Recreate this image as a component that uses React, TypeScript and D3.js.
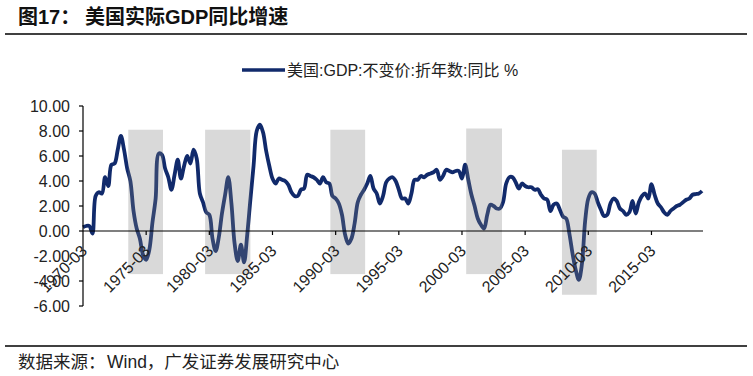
import React from 'react';
import * as d3 from 'd3';

// ---------- data ----------
const START_YEAR = 1970;
// 美国:GDP:不变价:折年数:同比 (%), quarterly from 1970-03
const gdpYoY: number[] = [
  0.3, 0.4, 0.4, -0.2,
  2.8, 3.1, 3.0, 4.3,
  3.6, 5.3, 5.4, 6.5,
  7.6, 6.5, 5.0, 4.0,
  1.6, 0.2, -0.6, -1.9,
  -2.3, -1.5, 0.7, 2.6,
  6.2, 6.1, 5.0, 4.3,
  3.3, 4.5, 5.7, 4.2,
  5.2, 6.0, 5.4, 6.5,
  5.8, 3.0, 2.3, 1.5,
  1.3, -0.6, -1.6, -0.5,
  1.4, 2.9, 4.3, 2.2,
  -1.0, -2.4, -1.1, -2.5,
  -0.3, 2.5, 5.2, 8.0,
  8.5, 7.9, 6.4, 5.2,
  4.2, 3.8, 4.2, 4.1,
  4.0, 3.7, 3.1, 2.8,
  2.8, 3.3, 3.4, 4.5,
  4.4, 4.3, 4.1, 3.8,
  4.3, 3.9, 3.8, 2.8,
  2.6, 2.2, 1.3, -0.3,
  -1.0, -0.6, 0.6, 2.3,
  2.9, 3.3, 3.8, 4.4,
  3.4, 3.0, 2.2, 2.8,
  3.9, 4.2, 4.3, 4.0,
  3.3, 2.6, 2.6, 2.2,
  3.0, 4.1, 4.1, 4.4,
  4.3, 4.5, 4.6, 4.7,
  4.9, 4.1, 4.4, 4.9,
  4.8, 4.7, 4.8, 4.8,
  4.2, 5.3, 4.1, 2.9,
  2.0, 1.0, 0.5, 0.2,
  1.3, 2.1, 2.0, 1.8,
  1.8, 2.3, 3.8, 4.3,
  4.3, 3.9, 3.4, 3.8,
  3.6, 3.5, 3.5, 3.3,
  3.35, 2.9, 2.6, 2.5,
  1.6, 2.1, 2.2, 1.7,
  1.15, 1.0, -0.2, -1.8,
  -3.1, -3.9, -2.6, 0.8,
  2.6, 3.1, 3.0, 2.3,
  1.7, 1.2, 1.3, 2.2,
  2.6, 2.4, 1.8, 1.6,
  1.3, 1.5, 2.4, 1.4,
  2.3, 2.8, 3.0, 2.6,
  3.75, 2.9, 2.2, 1.9,
  1.5, 1.3, 1.6, 1.8,
  2.0, 2.1, 2.3, 2.5,
  2.6, 2.9, 2.95, 3.0,
  3.2,
];

const quarters: string[] = gdpYoY.map(
  (_, i) => `${START_YEAR + Math.floor(i / 4)}-${String(3 + (i % 4) * 3).padStart(2, '0')}`
);

const xTickLabels = ['1970-03', '1975-03', '1980-03', '1985-03', '1990-03', '1995-03', '2000-03', '2005-03', '2010-03', '2015-03'];
const yTicks = [10, 8, 6, 4, 2, 0, -2, -4, -6];

// recession shading
const shadeStart = ['1973-10', '1979-11', '1989-10', '2000-07', '2008-02'];
const shadeEnd = ['1976-07', '1983-06', '1992-07', '2003-05', '2010-11'];
const shadeTop = [8.1, 8.1, 8.1, 8.2, 6.5];
const shadeBottom = [-3.45, -3.45, -3.45, -3.45, -5.1];

const titleLabel = '图17：';
const titleText = '美国实际GDP同比增速';
const legendText = '美国:GDP:不变价:折年数:同比 %';
const sourceLabel = '数据来源：';
const sourceText = 'Wind，广发证券发展研究中心';

// ---------- helpers ----------
const dateToIndex = (s: string) => {
  const [y, m] = s.split('-').map(Number);
  return (y - START_YEAR) * 4 + (m - 3) / 3;
};

const W = 753;
const H = 376;
const LINE_COLOR = '#112a6b';
const LATIN = '"Liberation Sans", Arial, "Noto Sans CJK SC", sans-serif';

export default function App() {
  const x = d3.scaleLinear().domain([0, gdpYoY.length - 1]).range([83, 702]);
  const y = d3.scaleLinear().domain([-6, 10]).range([306, 106]);

  const line = d3
    .line<number>()
    .x((_, i) => x(i))
    .y((d) => y(d))
    .curve(d3.curveCatmullRom.alpha(0.5));

  const tickIdx = xTickLabels.map((l) => quarters.indexOf(l));

  return (
    <svg
      width={W}
      height={H}
      viewBox={`0 0 ${W} ${H}`}
      style={{ position: 'absolute', left: 0, top: 0, background: '#fff' }}
    >
      <rect x={0} y={0} width={W} height={H} fill="#fff" />
      {/* title */}
      <text x={18} y={24} fontFamily={LATIN} fontWeight="bold" fontSize={20} fill="#111">
        {titleLabel}
      </text>
      <text x={85} y={24} fontFamily={LATIN} fontWeight="bold" fontSize={20} fill="#111">
        {titleText}
      </text>
      <line x1={5} x2={747} y1={34} y2={34} stroke="#000" strokeWidth={1.6} />

      {/* legend */}
      <line x1={242} x2={285} y1={70} y2={70} stroke={LINE_COLOR} strokeWidth={3.5} />
      <text x={287} y={76} fontFamily={LATIN} fontSize={16} fill="#222">
        {legendText}
      </text>

      {/* line */}
      <path d={line(gdpYoY) || ''} fill="none" stroke={LINE_COLOR} strokeWidth={3.8} strokeLinejoin="round" />

      {/* recession shading (semi-transparent over the line) */}
      {shadeStart.map((s, i) => {
        const x0 = x(dateToIndex(s));
        const x1 = x(dateToIndex(shadeEnd[i]));
        return (
          <rect
            key={s}
            x={x0}
            width={x1 - x0}
            y={y(shadeTop[i])}
            height={y(shadeBottom[i]) - y(shadeTop[i])}
            fill="#808080"
            fillOpacity={0.3}
          />
        );
      })}

      {/* y axis */}
      <line x1={x(0)} x2={x(0)} y1={y(10)} y2={y(-6)} stroke="#000" strokeWidth={1.2} />
      {yTicks.map((t) => (
        <g key={t}>
          <line x1={x(0) - 4} x2={x(0)} y1={y(t)} y2={y(t)} stroke="#000" strokeWidth={1.2} />
          <text
            x={70}
            y={y(t)}
            dy="0.36em"
            textAnchor="end"
            fontFamily={LATIN}
            fontSize={16}
            fill="#222"
          >
            {t.toFixed(2)}
          </text>
        </g>
      ))}

      {/* x axis at zero */}
      <line x1={x(0)} x2={703} y1={y(0)} y2={y(0)} stroke="#000" strokeWidth={1.2} />
      {tickIdx.map((ti, k) => (
        <g key={xTickLabels[k]}>
          {ti > 0 && <line x1={x(ti)} x2={x(ti)} y1={y(0)} y2={y(0) + 4} stroke="#000" strokeWidth={1.2} />}
          <text
            transform={`translate(${x(ti) + 5},${y(0) + 21}) rotate(-45)`}
            textAnchor="end"
            fontFamily={LATIN}
            fontSize={16}
            fill="#222"
          >
            {xTickLabels[k]}
          </text>
        </g>
      ))}

      {/* source */}
      <line x1={5} x2={747} y1={346} y2={346} stroke="#000" strokeWidth={1.6} />
      <text x={18} y={368} fontFamily={LATIN} fontSize={17.5} fill="#222">
        {sourceLabel}
      </text>
      <text x={107} y={368} fontFamily={LATIN} fontSize={17.5} fill="#222">
        {sourceText}
      </text>
    </svg>
  );
}
